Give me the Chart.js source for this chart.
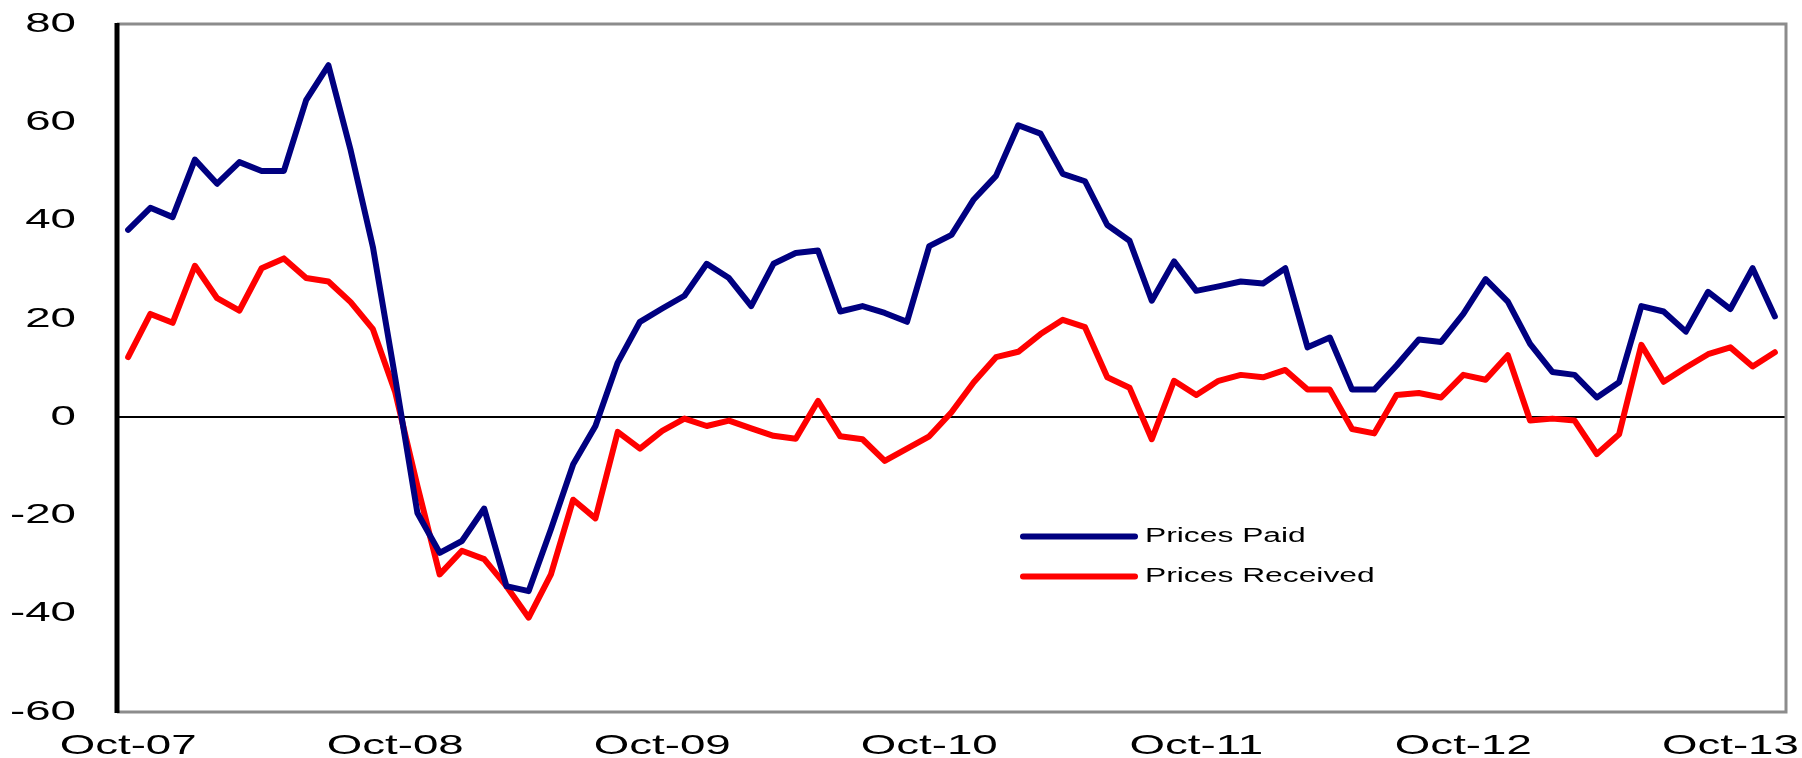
<!DOCTYPE html>
<html>
<head>
<meta charset="utf-8">
<script src="https://cdn.jsdelivr.net/npm/chart.js@4/dist/chart.umd.min.js"></script>
<style>
  html, body { margin: 0; padding: 0; background: #fff; }
  #priceChart { display: block; }
</style>
</head>
<body>
<canvas id="priceChart" width="1802" height="758"></canvas>
<script>
const months = [
  'Oct-07', 'Nov-07', 'Dec-07',
  'Jan-08', 'Feb-08', 'Mar-08', 'Apr-08', 'May-08', 'Jun-08', 'Jul-08', 'Aug-08', 'Sep-08', 'Oct-08', 'Nov-08', 'Dec-08',
  'Jan-09', 'Feb-09', 'Mar-09', 'Apr-09', 'May-09', 'Jun-09', 'Jul-09', 'Aug-09', 'Sep-09', 'Oct-09', 'Nov-09', 'Dec-09',
  'Jan-10', 'Feb-10', 'Mar-10', 'Apr-10', 'May-10', 'Jun-10', 'Jul-10', 'Aug-10', 'Sep-10', 'Oct-10', 'Nov-10', 'Dec-10',
  'Jan-11', 'Feb-11', 'Mar-11', 'Apr-11', 'May-11', 'Jun-11', 'Jul-11', 'Aug-11', 'Sep-11', 'Oct-11', 'Nov-11', 'Dec-11',
  'Jan-12', 'Feb-12', 'Mar-12', 'Apr-12', 'May-12', 'Jun-12', 'Jul-12', 'Aug-12', 'Sep-12', 'Oct-12', 'Nov-12', 'Dec-12',
  'Jan-13', 'Feb-13', 'Mar-13', 'Apr-13', 'May-13', 'Jun-13', 'Jul-13', 'Aug-13', 'Sep-13', 'Oct-13', 'Nov-13', 'Dec-13'
];

const pricesPaid = [
  38.1, 42.6, 40.7, 52.4, 47.5, 51.9, 50.1, 50.1, 64.5, 71.6, 54.3, 34.6,
  8.0, -19.5, -27.6, -25.2, -18.6, -34.4, -35.4, -22.8, -9.6, -1.8, 11.1, 19.4,
  22.1, 24.7, 31.2, 28.3, 22.6, 31.2, 33.4, 33.9, 21.5, 22.6, 21.2, 19.4,
  34.8, 37.1, 44.3, 49.1, 59.4, 57.7, 49.5, 48.0, 39.1, 35.9, 23.7, 31.7,
  25.7, 26.6, 27.6, 27.2, 30.3, 14.2, 16.2, 5.6, 5.6, 10.5, 15.8, 15.3,
  21.0, 28.1, 23.5, 14.9, 9.2, 8.6, 4.0, 7.1, 22.6, 21.5, 17.4, 25.5,
  22.0, 30.3, 20.5
];

const pricesReceived = [
  12.2, 21.0, 19.2, 30.8, 24.2, 21.7, 30.3, 32.3, 28.3, 27.6, 23.4, 17.9,
  5.1, -14.0, -32.0, -27.2, -28.9, -34.4, -40.8, -32.0, -16.8, -20.6, -3.0, -6.4,
  -2.8, -0.3, -1.8, -0.7, -2.3, -3.8, -4.4, 3.3, -3.9, -4.5, -8.9, -6.4,
  -3.9, 1.0, 7.1, 12.2, 13.3, 16.9, 19.8, 18.3, 8.1, 6.0, -4.5, 7.4,
  4.5, 7.4, 8.6, 8.1, 9.6, 5.6, 5.6, -2.4, -3.3, 4.5, 4.9, 4.0,
  8.6, 7.6, 12.6, -0.7, -0.3, -0.7, -7.5, -3.5, 14.7, 7.2, 10.1, 12.8,
  14.2, 10.3, 13.2
];

const xTickLabels = ['Oct-07', 'Oct-08', 'Oct-09', 'Oct-10', 'Oct-11', 'Oct-12', 'Oct-13'];
const yTickValues = [-60, -40, -20, 0, 20, 40, 60, 80];

const seriesNames = ['Prices Paid', 'Prices Received'];
const seriesColors = ['#000080', '#ff0000'];

const FONT = '"Liberation Sans", Arial, sans-serif';
const STRETCH = 1.63;

// text in this chart is wide, so draw it horizontally scaled
function wideText(ctx, text, x, y, align, size) {
  ctx.save();
  ctx.font = size + 'px ' + FONT;
  ctx.fillStyle = '#000';
  ctx.textBaseline = 'middle';
  ctx.textAlign = align;
  ctx.translate(x, y);
  ctx.scale(STRETCH, 1);
  ctx.fillText(text, 0, 0);
  ctx.restore();
}

const framePlugin = {
  id: 'frame',
  beforeDatasetsDraw(chart) {
    const { ctx, chartArea: a } = chart;
    ctx.save();
    // grey box on top, right and bottom
    ctx.strokeStyle = '#8c8c8c';
    ctx.lineWidth = 3;
    ctx.beginPath();
    ctx.moveTo(a.left, a.top);
    ctx.lineTo(a.right, a.top);
    ctx.lineTo(a.right, a.bottom);
    ctx.lineTo(a.left, a.bottom);
    ctx.stroke();
    // black value axis
    ctx.strokeStyle = '#000';
    ctx.lineWidth = 5;
    ctx.beginPath();
    ctx.moveTo(a.left, a.top - 1);
    ctx.lineTo(a.left, a.bottom + 1);
    ctx.stroke();
    ctx.restore();
  },
  afterDraw(chart) {
    const { ctx, chartArea: a, scales } = chart;
    // y axis labels
    yTickValues.forEach(v => {
      wideText(ctx, String(v), a.left - 41, scales.y.getPixelForValue(v), 'right', 28);
    });
    // x axis labels, one per October
    xTickLabels.forEach(lbl => {
      const idx = months.indexOf(lbl);
      wideText(ctx, lbl, scales.x.getPixelForValue(idx), a.bottom + 34, 'center', 28);
    });
    // legend inside the plot
    const legendX = 1023, legendY = [536.5, 576.5];
    seriesNames.forEach((name, i) => {
      ctx.save();
      ctx.strokeStyle = seriesColors[i];
      ctx.lineWidth = 6;
      ctx.lineCap = 'round';
      ctx.beginPath();
      ctx.moveTo(legendX, legendY[i]);
      ctx.lineTo(legendX + 112, legendY[i]);
      ctx.stroke();
      ctx.restore();
      wideText(ctx, name, legendX + 122, legendY[i], 'left', 19.5);
    });
  }
};

const chart = new Chart(document.getElementById('priceChart').getContext('2d'), {
  type: 'line',
  data: {
    labels: months,
    datasets: [
      {
        label: seriesNames[0],
        data: pricesPaid,
        borderColor: seriesColors[0],
        borderWidth: 6,
        pointRadius: 0,
        tension: 0,
        borderCapStyle: 'round',
        borderJoinStyle: 'round'
      },
      {
        label: seriesNames[1],
        data: pricesReceived,
        borderColor: seriesColors[1],
        borderWidth: 6,
        pointRadius: 0,
        tension: 0,
        borderCapStyle: 'round',
        borderJoinStyle: 'round'
      }
    ]
  },
  options: {
    responsive: false,
    animation: false,
    layout: { padding: { left: 117, right: 16, top: 24, bottom: 46 } },
    scales: {
      x: {
        type: 'category',
        offset: true,
        grid: { display: false, drawTicks: false },
        border: { display: false },
        ticks: { display: false }
      },
      y: {
        min: -60,
        max: 80,
        ticks: { display: false, stepSize: 20 },
        border: { display: false },
        grid: {
          drawTicks: false,
          lineWidth: 2,
          color: c => (c.tick && c.tick.value === 0 ? '#000' : 'rgba(0,0,0,0)')
        }
      }
    },
    plugins: {
      legend: { display: false },
      tooltip: { enabled: false }
    }
  },
  plugins: [framePlugin]
});
</script>
</body>
</html>
